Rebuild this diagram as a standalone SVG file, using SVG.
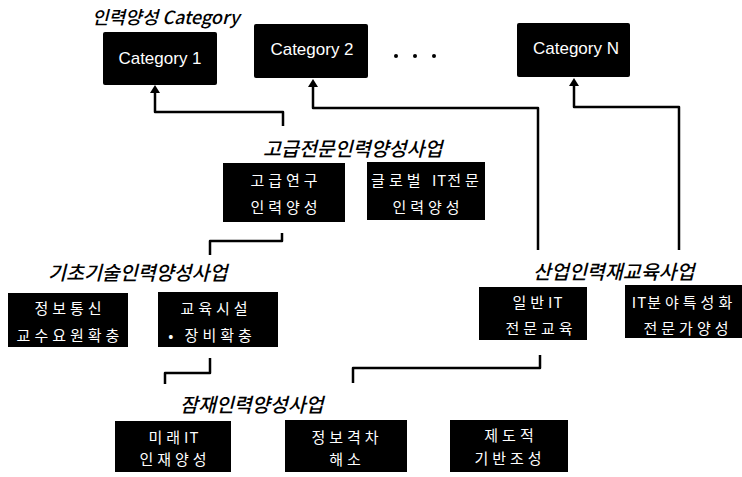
<svg xmlns="http://www.w3.org/2000/svg" width="742" height="477" viewBox="0 0 742 477">
<style>
.bx{fill:#000}
.ct{font-family:"Liberation Sans",Arial,sans-serif;font-size:17px;fill:#fff;text-anchor:middle}
.kt{font-family:"Noto Sans CJK KR","Noto Sans",sans-serif;font-size:15px;fill:#fff;text-anchor:middle;letter-spacing:4px}
.lb{font-family:"Noto Sans CJK KR","Liberation Sans",sans-serif;font-size:19.5px;font-style:italic;font-weight:500;fill:#000}
.cn{fill:none;stroke:#000;stroke-width:2.5;stroke-linejoin:round}
.ah{fill:#000}
.it{letter-spacing:1px}
</style>
<rect width="742" height="477" fill="#fff"/>

<text class="lb" x="92" y="24" style="font-size:18px">인력양성 Category</text>

<g id="cat1"><rect class="bx" x="103" y="32" width="114" height="53" rx="2"/><text class="ct" x="160" y="64">Category 1</text></g>
<g id="cat2"><rect class="bx" x="254" y="24" width="114" height="54" rx="2"/><text class="ct" x="312" y="55">Category 2</text></g>
<g id="dots"><circle cx="396" cy="56" r="2"/><circle cx="415" cy="56" r="2"/><circle cx="434" cy="56" r="2"/></g>
<g id="catN"><rect class="bx" x="517" y="23" width="113" height="54" rx="2"/><text class="ct" x="576" y="54">Category N</text></g>

<g id="grp-advanced">
<text class="lb" x="263" y="156">고급전문인력양성사업</text>
</g>
<g id="advResearch"><rect class="bx" x="223" y="163" width="122" height="59"/><text class="kt" x="286" y="186" letter-spacing="3">고급연구</text><text class="kt" x="286" y="213" letter-spacing="3">인력양성</text></g>
<g id="globalIT"><rect class="bx" x="367" y="162" width="118" height="58"/><text class="kt" x="427" y="186" letter-spacing="2.5">글로벌 <tspan class="it">IT</tspan>전문</text><text class="kt" x="428" y="213" letter-spacing="3">인력양성</text></g>

<g id="grp-basic"><text class="lb" x="48" y="280">기초기술인력양성사업</text></g>
<g id="profs"><rect class="bx" x="8" y="293" width="120" height="54"/><text class="kt" x="70" y="314">정보통신</text><text class="kt" x="70" y="341">교수요원확충</text></g>
<g id="facility"><rect class="bx" x="158" y="292" width="120" height="55"/><text class="kt" x="216" y="314">교육시설</text><text class="kt" x="212" y="341">• 장비확충</text></g>

<g id="grp-industry"><text class="lb" x="533" y="279">산업인력재교육사업</text></g>
<g id="generalIT"><rect class="bx" x="479" y="287" width="108" height="53"/><text class="kt" x="538" y="308" letter-spacing="3">일반<tspan class="it">IT</tspan></text><text class="kt" x="541" y="334" letter-spacing="3">전문교육</text></g>
<g id="itSpecial"><rect class="bx" x="625" y="285" width="117" height="53"/><text class="kt" x="684" y="308" letter-spacing="3"><tspan class="it">IT</tspan>분야특성화</text><text class="kt" x="688" y="334" letter-spacing="4">전문가양성</text></g>

<g id="grp-potential"><text class="lb" x="180" y="412">잠재인력양성사업</text></g>
<g id="futureIT"><rect class="bx" x="115" y="421" width="116" height="51"/><text class="kt" x="174" y="443">미래<tspan class="it">IT</tspan></text><text class="kt" x="175" y="465">인재양성</text></g>
<g id="divide"><rect class="bx" x="285" y="420" width="122" height="52"/><text class="kt" x="347" y="443" letter-spacing="5">정보격차</text><text class="kt" x="347" y="465" letter-spacing="5">해소</text></g>
<g id="institution"><rect class="bx" x="450" y="420" width="118" height="52"/><text class="kt" x="511" y="441" letter-spacing="5">제도적</text><text class="kt" x="510" y="464">기반조성</text></g>

<g id="connectors">
<path class="cn" d="M283,126 V112 H155 V92"/>
<path class="cn" d="M538,250 V108 H313 V86"/>
<path class="cn" d="M679,250 V107 H574 V85"/>
<polygon class="ah" points="150,93 155,85 160,93"/>
<polygon class="ah" points="308,87 313,79 318,87"/>
<polygon class="ah" points="569,86 574,78 579,86"/>
<path class="cn" d="M282,233 V241 H210 V255"/>
<path class="cn" d="M210,358 V373 H165 V384"/>
<path class="cn" d="M540,355 V368 H353 V383"/>
</g>
</svg>
